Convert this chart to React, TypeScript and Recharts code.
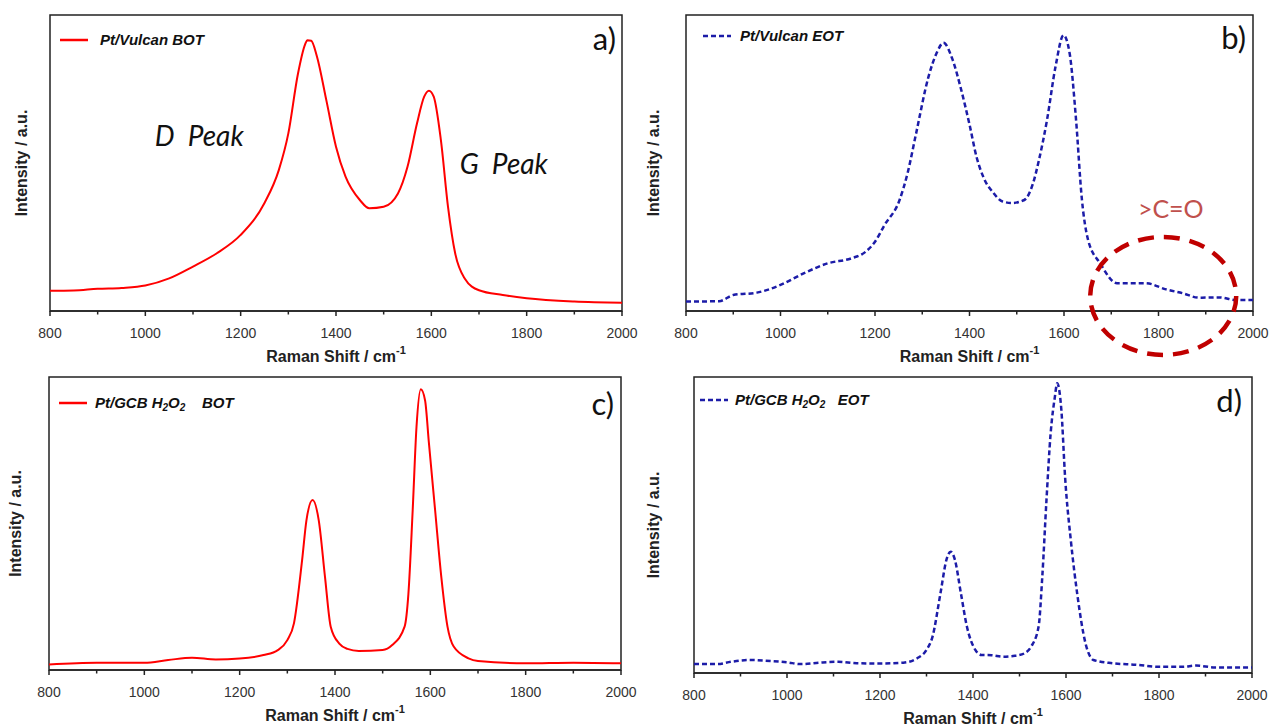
import React from "react";
import { LineChart, Line, XAxis, YAxis, ReferenceArea, ReferenceDot } from "recharts";

// Raman spectra, intensities in a.u. scaled to 0-100 of each panel's height
const vulcanBotShift = [800, 850, 900, 950, 1000, 1050, 1100, 1150, 1200, 1250, 1280, 1300, 1320, 1335, 1340, 1348, 1360, 1380, 1400, 1420, 1450, 1470, 1500, 1530, 1550, 1570, 1585, 1595, 1605, 1620, 1635, 1650, 1670, 1700, 1750, 1800, 1900, 2000];
const vulcanBotIntensity = [6.8, 6.9, 7.5, 7.8, 8.6, 11, 15, 19.5, 25.7, 36.5, 47.6, 60, 80, 90, 91.5, 91.3, 86, 71, 55.5, 45.4, 37.5, 34.7, 35.2, 39.7, 48.7, 63.4, 72.4, 74.4, 72.4, 57.8, 35.2, 19.5, 11, 7, 5.4, 4.3, 3.2, 2.8];

const vulcanEotShift = [800, 870, 900, 950, 1000, 1050, 1100, 1150, 1180, 1200, 1220, 1252, 1269, 1287, 1313, 1330, 1345, 1364, 1382, 1400, 1415, 1430, 1450, 1470, 1490, 1516, 1534, 1547, 1564, 1582, 1599, 1612, 1625, 1638, 1651, 1677, 1712, 1773, 1816, 1851, 1886, 1929, 1964, 2000];
const vulcanEotIntensity = [3.2, 3.3, 5.4, 6.2, 8.8, 12.8, 16.1, 17.8, 20, 23.4, 29, 37.5, 46.6, 60, 79, 87, 90.6, 85, 75, 63, 52, 45, 40, 37, 36.5, 37.5, 42.9, 51, 64.5, 82.5, 93.2, 87, 65.6, 37.5, 24, 16, 9.4, 9.4, 7.3, 6, 4.5, 4.6, 3.7, 3.7];

const gcbBotShift = [800, 900, 1000, 1050, 1100, 1150, 1200, 1250, 1280, 1300, 1314, 1331, 1340, 1353, 1366, 1379, 1391, 1409, 1426, 1450, 1500, 1520, 1546, 1554, 1563, 1571, 1580, 1589, 1597, 1610, 1623, 1636, 1649, 1680, 1700, 1800, 1900, 2000];
const gcbBotIntensity = [1.9, 2.5, 2.5, 3.4, 4.2, 3.6, 3.9, 5.1, 6.8, 10.2, 16, 37.5, 51, 58, 51, 31.8, 14.8, 9, 7.2, 6.5, 6.8, 8.5, 14.8, 26, 54.6, 83, 95.8, 92, 77.5, 54.6, 31.8, 14.8, 8, 4, 3.1, 2.3, 2.5, 2.3];

const gcbEotShift = [800, 850, 880, 920, 970, 1000, 1030, 1070, 1110, 1150, 1200, 1250, 1280, 1300, 1313, 1330, 1343, 1352, 1361, 1374, 1387, 1405, 1418, 1440, 1465, 1490, 1510, 1525, 1541, 1549, 1558, 1567, 1576, 1581, 1590, 1598, 1611, 1624, 1642, 1659, 1700, 1750, 1800, 1850, 1880, 1920, 2000];
const gcbEotIntensity = [3, 3, 3.8, 4.4, 4, 3.6, 3, 3.5, 3.8, 3.3, 3.2, 3.5, 5, 7.8, 12.3, 26.9, 38.3, 41, 38.3, 26.9, 15.6, 7.8, 6.1, 6, 5.5, 5.8, 6.6, 8.9, 15.6, 32.5, 58.4, 81, 93.2, 97.9, 88.9, 66.3, 43.9, 26.9, 10, 4.4, 3.3, 2.8, 2.1, 2.1, 2.5, 1.9, 1.9];

const xTicks = [800, 900, 1000, 1100, 1200, 1300, 1400, 1500, 1600, 1700, 1800, 1900, 2000];

const RED = "#ff0000";
const BLUE = "#1c1ca8";
const AXIS = "#222";
const SANS = "'Liberation Sans', Arial, sans-serif";
const CALIBRI = "Lato, 'Open Sans', sans-serif";

const toRows = (shift: number[], intensity: number[]) =>
  shift.map((s, i) => ({ shift: s, intensity: intensity[i] }));

const XTick = (props: any) => {
  const { x, y, payload } = props;
  const major = payload.value % 200 === 0;
  return (
    <g>
      <line x1={x} x2={x} y1={y} y2={y + (major ? 5 : 3.5)} stroke={AXIS} strokeWidth={1.5} />
      {major && (
        <text x={x} y={y + 27} textAnchor="middle" fontFamily={SANS} fontSize={14} fill="#333">
          {payload.value}
        </text>
      )}
    </g>
  );
};

const XTitle = (props: any) => {
  const vb = props.viewBox;
  return (
    <text x={vb.x + vb.width / 2} y={vb.y + 51} textAnchor="middle" fontFamily={SANS} fontSize={16} fontWeight="bold" fill="#222">
      Raman Shift / cm<tspan dy={-8} fontSize={11}>-1</tspan>
    </text>
  );
};

const makeYTitle = (cx: number) => (props: any) => {
  const vb = props.viewBox;
  const cy = vb.y + vb.height / 2;
  return (
    <text x={cx} y={cy} transform={`rotate(-90 ${cx} ${cy})`} textAnchor="middle" dominantBaseline="central" fontFamily={SANS} fontSize={16} fontWeight="bold" fill="#222">
      Intensity / a.u.
    </text>
  );
};

const sub = (t: string) => (
  <sub style={{ fontSize: 10, verticalAlign: "-3px" }}>{t}</sub>
);

interface PanelProps {
  left: number;
  top: number;
  width: number;
  yWidth: number;
  right: number;
  bottom: number;
  yTitleX: number;
  rows: { shift: number; intensity: number }[];
  dashed: boolean;
  legend: React.ReactNode;
  legendPos: { x: number; y: number; textX: number };
  letter: string;
  letterPos: { right: number; y: number };
  children?: React.ReactNode;
}

const Panel = ({ left, top, width, yWidth, right, bottom, yTitleX, rows, dashed, legend, legendPos, letter, letterPos, children }: PanelProps) => {
  const color = dashed ? BLUE : RED;
  return (
    <div style={{ position: "absolute", left, top, width, height: 365 }}>
      <LineChart width={width} height={365} data={rows} margin={{ top: 15, right, bottom, left: 0 }}>
        <XAxis
          dataKey="shift"
          type="number"
          domain={[800, 2000]}
          ticks={xTicks}
          interval={0}
          height={40}
          tickSize={0}
          tickMargin={0}
          tickLine={false}
          tick={<XTick />}
          axisLine={{ stroke: AXIS, strokeWidth: 1.5 }}
          label={{ content: XTitle }}
        />
        <YAxis
          type="number"
          domain={[0, 100]}
          allowDataOverflow
          width={yWidth}
          tick={false}
          tickLine={false}
          axisLine={false}
          label={{ content: makeYTitle(yTitleX) }}
        />
        <ReferenceArea x1={800} x2={2000} y1={0} y2={100} fill="none" stroke={AXIS} strokeWidth={1.5} />
        <Line
          type="monotone"
          dataKey="intensity"
          stroke={color}
          strokeWidth={dashed ? 2.5 : 2}
          strokeDasharray={dashed ? "5 3" : undefined}
          dot={false}
          isAnimationActive={false}
        />
        {children}
      </LineChart>
      <svg style={{ position: "absolute", left: legendPos.x, top: legendPos.y - 3 }} width={30} height={6}>
        <line x1={0} x2={28} y1={3} y2={3} stroke={color} strokeWidth={2.5} strokeDasharray={dashed ? "5 3" : undefined} />
      </svg>
      <div
        style={{
          position: "absolute",
          left: legendPos.textX,
          top: legendPos.y - 10,
          height: 20,
          lineHeight: "20px",
          fontFamily: SANS,
          fontSize: 15,
          fontWeight: "bold",
          fontStyle: "italic",
          color: "#111",
          whiteSpace: "pre",
        }}
      >
        {legend}
      </div>
      <div
        style={{
          position: "absolute",
          left: letterPos.right - 60,
          width: 60,
          textAlign: "right",
          top: letterPos.y - 20,
          height: 40,
          lineHeight: "40px",
          fontFamily: CALIBRI,
          fontSize: 31,
          color: "#111",
        }}
      >
        {letter}
      </div>
    </div>
  );
};

const PeakNote = (text: string) => (props: any) => (
  <text x={props.cx} y={props.cy} textAnchor="middle" dominantBaseline="central" fontFamily={CALIBRI} fontStyle="italic" fontSize={28} fill="#111" style={{ whiteSpace: "pre" }}>
    {text}
  </text>
);

const CarbonylNote = (props: any) => (
  <text x={props.cx} y={props.cy} textAnchor="middle" dominantBaseline="central" fontFamily={CALIBRI} fontSize={25} fill="#c0504d">
    {">C=O"}
  </text>
);

const CarbonylRing = (props: any) => (
  <ellipse cx={props.cx} cy={props.cy} rx={73} ry={59} fill="none" stroke="#c00000" strokeWidth={4.5} strokeDasharray="16 10" />
);

export default function App() {
  return (
    <div style={{ position: "absolute", left: 0, top: 0, width: 1271, height: 727, background: "#fff", overflow: "hidden" }}>
      <style>{`.recharts-surface { overflow: visible; } .recharts-wrapper { overflow: visible; }`}</style>
      <Panel
        left={0}
        top={0}
        width={635}
        yWidth={50}
        right={13}
        bottom={14}
        yTitleX={21}
        rows={toRows(vulcanBotShift, vulcanBotIntensity)}
        dashed={false}
        legend="Pt/Vulcan BOT"
        legendPos={{ x: 60, y: 40, textX: 100 }}
        letter="a)"
        letterPos={{ right: 616, y: 38 }}
      >
        <ReferenceDot x={1113} y={59.5} r={0} ifOverflow="visible" shape={PeakNote("D  Peak")} />
        <ReferenceDot x={1752} y={50} r={0} ifOverflow="visible" shape={PeakNote("G  Peak")} />
      </Panel>
      <Panel
        left={635}
        top={0}
        width={636}
        yWidth={51}
        right={18}
        bottom={14}
        yTitleX={18}
        rows={toRows(vulcanEotShift, vulcanEotIntensity)}
        dashed={true}
        legend="Pt/Vulcan EOT"
        legendPos={{ x: 68, y: 36, textX: 105 }}
        letter="b)"
        letterPos={{ right: 611, y: 37 }}
      >
        <ReferenceDot x={1826} y={34.8} r={0} ifOverflow="visible" shape={CarbonylNote} />
        <ReferenceDot x={1810} y={5.1} r={0} ifOverflow="visible" shape={CarbonylRing} />
      </Panel>
      <Panel
        left={0}
        top={362}
        width={635}
        yWidth={49}
        right={14}
        bottom={17}
        yTitleX={15}
        rows={toRows(gcbBotShift, gcbBotIntensity)}
        dashed={false}
        legend={<>Pt/GCB H{sub("2")}O{sub("2")}{"    BOT"}</>}
        legendPos={{ x: 59, y: 41, textX: 95 }}
        letter="c)"
        letterPos={{ right: 614, y: 41 }}
      />
      <Panel
        left={635}
        top={362}
        width={636}
        yWidth={59}
        right={19}
        bottom={14}
        yTitleX={18}
        rows={toRows(gcbEotShift, gcbEotIntensity)}
        dashed={true}
        legend={<>Pt/GCB H{sub("2")}O{sub("2")}{"   EOT"}</>}
        legendPos={{ x: 65, y: 38, textX: 100 }}
        letter="d)"
        letterPos={{ right: 607, y: 38 }}
      />
    </div>
  );
}
